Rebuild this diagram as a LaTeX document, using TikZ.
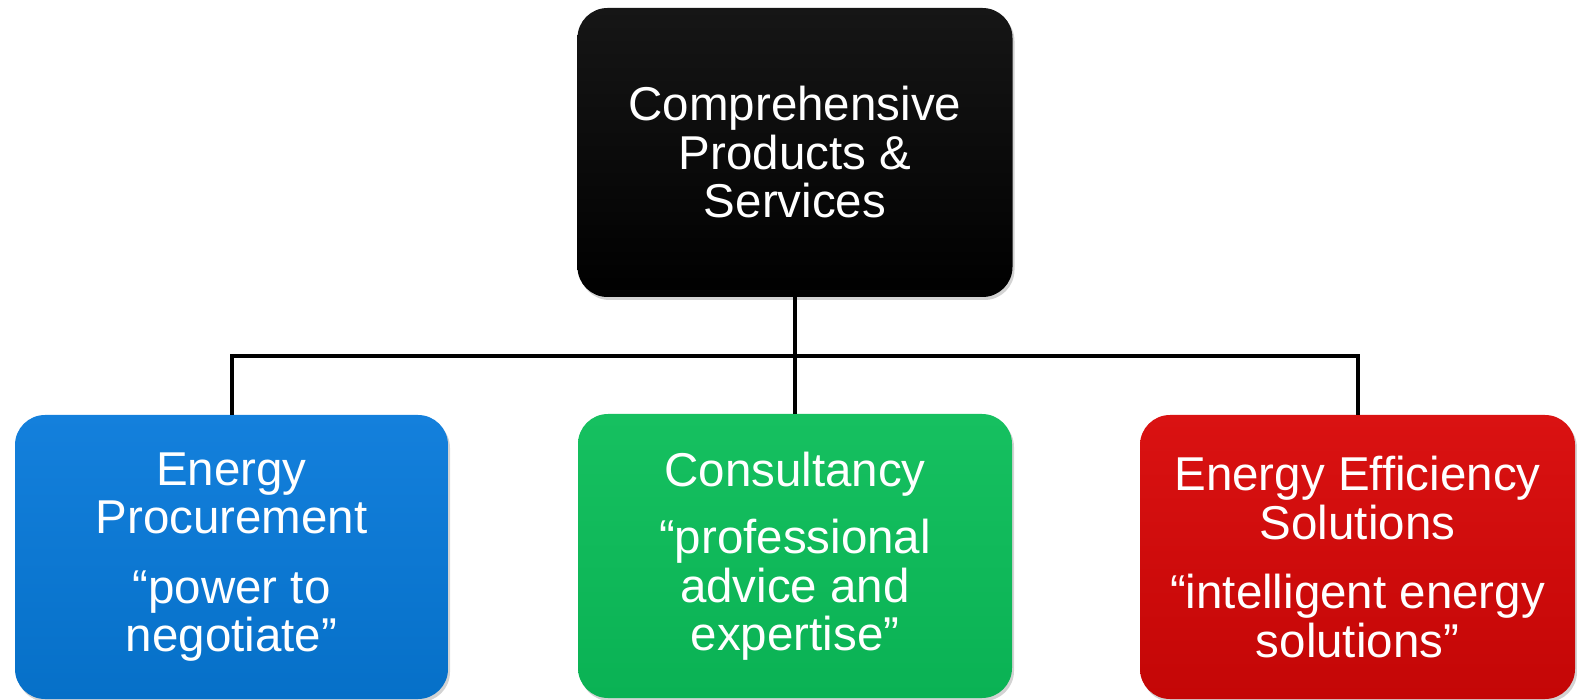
\documentclass[tikz,border=0pt]{standalone}
\usepackage{fontspec}
\setmainfont{Liberation Sans}
\usetikzlibrary{shadows}
\definecolor{cblueT}{RGB}{20,128,220}
\definecolor{cblueB}{RGB}{6,112,200}
\definecolor{cgreenT}{RGB}{22,192,96}
\definecolor{cgreenB}{RGB}{10,178,84}
\definecolor{credT}{RGB}{218,18,18}
\definecolor{credB}{RGB}{196,6,6}
\definecolor{cblackT}{RGB}{22,22,22}
\definecolor{cblackB}{RGB}{0,0,0}
\tikzset{
  box/.style={rectangle, rounded corners=30pt, draw=none, text=white,
    align=center, inner sep=0pt,
    font=\fontsize{47.5}{48.5}\selectfont,
    drop shadow={opacity=0.35, shadow xshift=2pt, shadow yshift=-3pt}},
  conn/.style={draw=black, line width=4pt}
}
\begin{document}
\begin{tikzpicture}[x=1pt,y=-1pt]
\useasboundingbox (0,0) rectangle (1577,700);
\node[box, top color=cblackT, bottom color=cblackB, minimum width=435pt, minimum height=289pt] (top) at (795,152.5)
  {Comprehensive\\Products \&\\Services};
\node[box, top color=cblueT, bottom color=cblueB, minimum width=433pt, minimum height=284pt] (blue) at (231.5,557)
  {Energy\\Procurement\\[21pt]“power to\\negotiate”};
\node[box, top color=cgreenT, bottom color=cgreenB, minimum width=434pt, minimum height=284pt] (green) at (795,556)
  {Consultancy\\[19pt]“professional\\advice and\\expertise”};
\node[box, top color=credT, bottom color=credB, minimum width=435pt, minimum height=284pt] (red) at (1357.5,557)
  {Energy Efficiency\\Solutions\\[21pt]“intelligent energy\\solutions”};
\coordinate (bus) at (795,356);
\draw[conn] (top.south) -- (green.north);
\draw[conn] (blue.north) -- (blue.north |- bus) -- (red.north |- bus) -- (red.north);
\end{tikzpicture}
\end{document}
